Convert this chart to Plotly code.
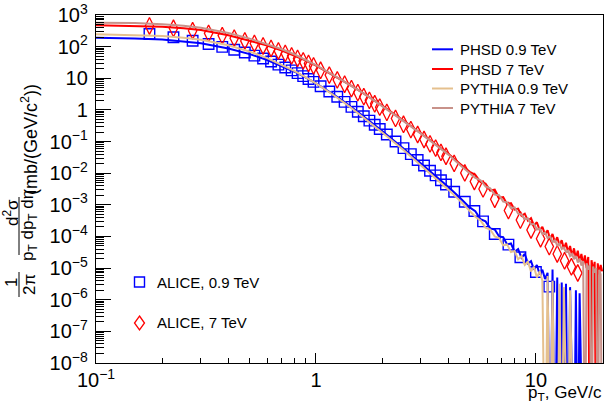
import plotly.graph_objects as go

# ---------------- data ----------------
# model curves: common pT grid (GeV/c)
pt_curve = [0.1, 0.15, 0.2, 0.25, 0.3, 0.4, 0.5, 0.6, 0.7, 0.8, 0.9, 1.0, 1.2, 1.4,
            1.6, 1.8, 2.0, 2.5, 3.0, 3.5, 4.0, 4.5,
            5.0, 5.3, 5.6, 5.9, 6.2, 6.5, 6.8, 7.1, 7.4, 7.7, 8.0, 8.3, 8.6, 8.9,
            9.2, 9.5, 9.8, 10.1, 10.4, 10.7, 11.0, 11.3, 11.6, 11.9, 12.2, 12.5,
            12.8, 13.1, 13.4, 13.7, 14.0, 14.3, 14.6, 14.9, 15.2, 15.5, 15.8,
            16.1, 16.4, 16.7, 17.0, 17.3, 17.6, 17.9, 18.2, 18.5, 18.8, 19.1,
            19.4, 19.7, 20.0]

phsd_09 = [190, 182, 167, 148, 127, 87.5, 58, 37.8, 24.5, 16.1, 10.5, 6.9, 3.1, 1.48,
           0.728, 0.385, 0.216, 0.0605, 0.0207, 0.0082, 0.00363, 0.0017,
           8.3e-4, 6.3e-4, 3.5e-4, 3.0e-4, 1.8e-4, 1.66e-4, 1.0e-4, 9.5e-5, 5.6e-5, 6.0e-5,
           3.3e-5, 4.0e-5, 2.1e-5, 2.8e-5, 1.4e-5, 1.66e-5, 8.9e-6, 1.26e-5, 6.3e-6, 8.9e-6,
           4.5e-6, 7.1e-6, 0, 9e-6, 0, 5e-6, 0, 3.5e-6, 0, 3.2e-6, 0, 2.5e-6, 0, 0,
           2e-6, 0, 1.6e-6, 0, 0, 0, 0, 0, 0, 0, 0, 0, 0, 0, 0, 0, 0]

phsd_7 = [470, 457, 425, 383, 334, 230, 156, 108, 75.3, 52.5, 36.4, 25.3, 12.6, 6.7,
          3.78, 2.23, 1.36, 0.462, 0.186, 0.084, 0.0414, 0.0204,
          1.10e-2, 8.9e-3, 5.25e-3, 4.68e-3, 2.82e-3, 3.0e-3, 1.66e-3, 1.74e-3, 1.05e-3, 1.12e-3,
          7.1e-4, 7.6e-4, 4.5e-4, 5.25e-4, 3.16e-4, 3.8e-4, 2.19e-4, 2.82e-4, 1.58e-4, 2.0e-4,
          1.17e-4, 1.58e-4, 8.3e-5, 1.2e-4, 6.6e-5, 9.5e-5, 5.25e-5, 7.6e-5, 4.0e-5, 6.3e-5,
          3.16e-5, 5.0e-5, 2.4e-5, 4.2e-5, 2.0e-5, 3.55e-5, 1.58e-5, 2.82e-5, 1.26e-5, 2.5e-5,
          1.0e-5, 2.24e-5, 0, 1.78e-5, 7.9e-6, 1.58e-5, 0, 1.41e-5, 6.3e-6, 1.26e-5, 7.9e-6]

pythia_09 = [245, 234, 215, 191, 164, 110, 69.7, 43.4, 26.9, 16.9, 10.7, 6.9, 2.96, 1.38,
             0.664, 0.351, 0.192, 0.0539, 0.0180, 0.00698, 0.00302, 0.00138,
             6.3e-4, 4.2e-4, 3.2e-4, 1.9e-4, 1.66e-4, 1.0e-4, 8.9e-5, 5.2e-5, 5.6e-5, 3.2e-5,
             3.5e-5, 1.9e-5, 2.4e-5, 1.26e-5, 1.6e-5, 7.9e-6, 1.1e-5, 5e-6, 7.9e-6, 4e-6,
             0, 5.6e-6, 0, 4e-6, 0, 0, 3.2e-6, 0, 2.5e-6, 0, 0, 2e-6, 0,
             0, 0, 0, 0, 0, 0, 0, 0, 0, 0, 0, 0, 0, 0, 0, 0, 0, 0]

pythia_7 = [572, 556, 511, 460, 397, 270, 179, 121, 82.5, 56.3, 38.1, 25.9, 12.6, 6.7,
            3.78, 2.18, 1.33, 0.441, 0.178, 0.0784, 0.0386, 0.0186,
            1.0e-2, 7.1e-3, 6.0e-3, 3.8e-3, 3.3e-3, 2.1e-3, 2.0e-3, 1.26e-3, 1.2e-3, 7.9e-4,
            8.3e-4, 5.25e-4, 5.0e-4, 3.55e-4, 3.7e-4, 2.4e-4, 2.5e-4, 1.66e-4, 1.78e-4, 1.2e-4,
            1.32e-4, 8.9e-5, 1.0e-4, 6.6e-5, 7.6e-5, 5.25e-5, 6.0e-5, 4.0e-5, 4.5e-5, 3.16e-5,
            3.55e-5, 2.4e-5, 2.82e-5, 1.9e-5, 2.4e-5, 1.5e-5, 2.0e-5, 1.2e-5, 1.66e-5, 0,
            1.41e-5, 8.9e-6, 1.26e-5, 0, 1.12e-5, 7.1e-6, 1.0e-5, 0, 8.9e-6, 6.3e-6, 0]

# ALICE data
alice_pt_09 = [0.175, 0.225, 0.275, 0.325, 0.375, 0.425, 0.475, 0.525, 0.575, 0.625, 0.675,
               0.725, 0.775, 0.825, 0.875, 0.925, 0.975, 1.05, 1.15, 1.25, 1.35, 1.45, 1.55,
               1.65, 1.75, 1.85, 1.95, 2.1, 2.3, 2.5, 2.7, 2.9, 3.1, 3.3, 3.5, 3.7, 3.9,
               4.25, 4.75, 5.25, 5.75, 6.5, 7.5, 8.5, 10.0, 11.5]
alice_09 = [250, 197, 154, 121, 98, 80, 65, 52, 42, 34, 27, 22, 17.8, 14.5, 11.7, 9.5, 7.7,
            5.6, 3.8, 2.6, 1.8, 1.25, 0.87, 0.63, 0.46, 0.34, 0.25,
            0.167, 0.10, 0.062, 0.040, 0.026, 0.0175, 0.012, 0.0085, 0.006, 0.0044,
            0.0026, 0.00125, 6.4e-4, 3.0e-4, 1.2e-4, 5.5e-5, 2.2e-5, 7.5e-6, 2.6e-6]

alice_pt_7 = [0.175, 0.225, 0.275, 0.325, 0.375, 0.425, 0.475, 0.525, 0.575, 0.625, 0.675,
              0.725, 0.775, 0.825, 0.875, 0.925, 0.975, 1.05, 1.15, 1.25, 1.35, 1.45, 1.55,
              1.65, 1.75, 1.85, 1.95, 2.1, 2.3, 2.5, 2.7, 2.9, 3.1, 3.3, 3.5, 3.7, 3.9,
              4.25, 4.75, 5.25, 5.75, 6.5, 7.5, 8.5, 9.5, 10.5, 11.5, 12.5, 13.5, 14.5, 15.5]
alice_7 = [450, 380, 318, 263, 223, 185, 152, 126, 105, 87.5, 73.1, 61.1, 50.9, 42.5, 35.4,
           29.5, 24.6, 17.9, 12.6, 8.9, 6.49, 4.7, 3.52, 2.62, 2.01, 1.56, 1.22,
           0.836, 0.538, 0.351, 0.239, 0.167, 0.116, 0.0841, 0.0622, 0.0454, 0.0343,
           0.0204, 0.0102, 0.00548, 0.00318, 1.5e-3, 6.6e-4, 3.3e-4, 1.6e-4, 8.5e-5,
           4.8e-5, 2.8e-5, 1.7e-5, 1.1e-5, 7e-6]

curve_names = ["PHSD 0.9 TeV", "PHSD 7 TeV", "PYTHIA 0.9 TeV", "PYTHIA 7 TeV"]
curve_colors = ["#0000ff", "#ff0000", "#e5c08e", "#c8928a"]
marker_names = ["ALICE, 0.9 TeV", "ALICE, 7 TeV"]

# ---------------- figure ----------------
W, H = 604, 401
ML, MR, MT, MB = 96, 1, 15, 38
PW, PH = W - ML - MR, H - MT - MB


def fx(p):  # pixel x -> paper
    return (p - ML) / PW


def fy(p):  # pixel y -> paper
    return (H - MB - p) / PH


def floor0(v):  # empty histogram bins drop to the bottom of the frame
    return [a if a > 0 else 1e-12 for a in v]


fig = go.Figure()

fig.add_trace(go.Scatter(x=alice_pt_09, y=alice_09, mode="markers", name=marker_names[0],
                         marker=dict(symbol="square-open", size=10.5, color="#0000ff",
                                     line=dict(width=1.4)), hoverinfo="skip"))
fig.add_trace(go.Scatter(x=alice_pt_7, y=alice_7, mode="markers", name=marker_names[1],
                         marker=dict(symbol="diamond-tall-open", size=12, color="#ff0000",
                                     line=dict(width=1.3)), hoverinfo="skip"))

for nm, vals, col in zip(curve_names, [phsd_09, phsd_7, pythia_09, pythia_7], curve_colors):
    fig.add_trace(go.Scatter(x=pt_curve, y=floor0(vals), mode="lines", name=nm,
                             line=dict(color=col, width=2), hoverinfo="skip"))

axis_common = dict(type="log", dtick=1, exponentformat="power", showgrid=False, zeroline=False,
                   showline=True, linecolor="black", linewidth=1, mirror=True,
                   ticks="inside", tickcolor="black", tickwidth=1,
                   tickfont=dict(size=16, color="black"))
fig.update_xaxes(range=[-1, 1.305], ticklen=10,
                 minor=dict(ticks="inside", ticklen=5, dtick="D1", tickcolor="black",
                            showgrid=False), **axis_common)
fig.update_yaxes(range=[-8, 3], ticklen=15, ticklabelstandoff=4,
                 minor=dict(ticks="inside", ticklen=8, dtick="D1", tickcolor="black",
                            showgrid=False), **axis_common)

shapes = []
ann = []
font_txt = dict(family="Liberation Sans, Arial, sans-serif", size=15, color="black")

# top-right legend (model curves)
rows = [49.3, 69, 88.5, 108]
for nm, col, yy in zip(curve_names, curve_colors, rows):
    shapes.append(dict(type="line", xref="paper", yref="paper", x0=fx(432), x1=fx(453),
                       y0=fy(yy), y1=fy(yy), line=dict(color=col, width=2)))
    ann.append(dict(xref="paper", yref="paper", x=fx(458), y=fy(yy), text=nm,
                    xanchor="left", yanchor="middle", showarrow=False, font=font_txt))

# bottom-left legend (ALICE data)
shapes.append(dict(type="rect", xref="paper", yref="paper", x0=fx(134.5), x1=fx(144.5),
                   y0=fy(287), y1=fy(277), line=dict(color="#0000ff", width=1.4)))
dpath = "M {a} {b} L {c} {d} L {a} {e} L {f} {d} Z".format(
    a=fx(139.5), b=fy(316), c=fx(144.5), d=fy(323), e=fy(330), f=fx(134.5))
shapes.append(dict(type="path", xref="paper", yref="paper", path=dpath,
                   line=dict(color="#ff0000", width=1.3)))
ann.append(dict(xref="paper", yref="paper", x=fx(155), y=fy(282), text=marker_names[0],
                xanchor="left", yanchor="middle", showarrow=False, font=font_txt))
ann.append(dict(xref="paper", yref="paper", x=fx(155), y=fy(322), text=marker_names[1],
                xanchor="left", yanchor="middle", showarrow=False, font=font_txt))

# x title
ann.append(dict(xref="paper", yref="paper", x=fx(604), y=fy(393.5), text="p<sub>T</sub>, GeV/c",
                xanchor="right", yanchor="middle", showarrow=False,
                font=dict(family="Liberation Sans, Arial", size=17, color="black")))

# y title (rotated pieces)
tfont = dict(family="Liberation Sans, Arial", size=17, color="black")
for txt, xx, yy, fs in [("(mb/(GeV/c<sup>2</sup>))", 29, 140, 18),
                        ("d<sup>2</sup>σ", 11, 213, 17),
                        ("p<sub>T</sub> dp<sub>T</sub> dη", 29, 226, 17),
                        ("1", 11, 283, 17),
                        ("2π", 29, 285, 17)]:
    ann.append(dict(xref="paper", yref="paper", x=fx(xx), y=fy(yy), text=txt, textangle=-90,
                    xanchor="center", yanchor="middle", showarrow=False,
                    font=dict(family="Liberation Sans, Arial", size=fs, color="black")))
shapes.append(dict(type="line", xref="paper", yref="paper", x0=fx(19), x1=fx(19),
                   y0=fy(197), y1=fy(255), line=dict(color="black", width=1)))
shapes.append(dict(type="line", xref="paper", yref="paper", x0=fx(19), x1=fx(19),
                   y0=fy(272), y1=fy(297), line=dict(color="black", width=1)))

fig.update_layout(width=W, height=H, margin=dict(l=ML, r=MR, t=MT, b=MB, pad=0),
                  paper_bgcolor="white", plot_bgcolor="white", showlegend=False,
                  font=dict(family="Liberation Sans, Arial, sans-serif", size=16, color="black"),
                  shapes=shapes, annotations=ann)

fig.write_html("out.html", config={"displayModeBar": False},
               post_script="document.body.style.margin='0px';document.body.style.padding='0px';")
